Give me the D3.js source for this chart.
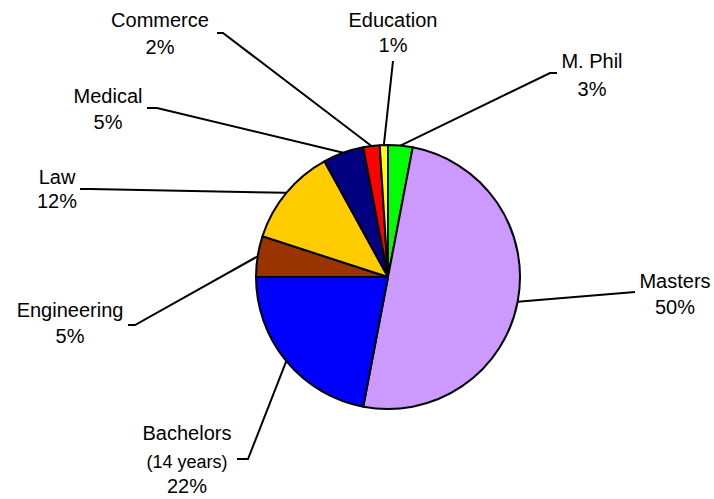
<!DOCTYPE html>
<html lang="en">
<head>
    <meta charset="UTF-8">
    <title>Pie chart</title>
    <script src="https://d3js.org/d3.v7.min.js"></script>
    <style>
        body { margin: 0; background: #ffffff; }
        svg text { font-family: "Liberation Sans", Arial, sans-serif; fill: #000; }
    </style>
</head>
<body>
    <svg id="chart" width="714" height="499"></svg>
    <script>
        // slices, clockwise from 12 o'clock
        const categories = ['M. Phil', 'Masters', 'Bachelors', 'Engineering', 'Law', 'Medical', 'Commerce', 'Education'];
        const values = [3, 50, 22, 5, 12, 5, 2, 1];
        const colors = ['#00ff00', '#cc99ff', '#0000ff', '#993300', '#ffcc00', '#000080', '#ff0000', '#ffff00'];

        // label placement: text centre, baselines, and where the leader leaves the text
        const labelLayout = {
            'M. Phil':     { x: 592, y: 68,  y2: 96,  lines: [[557, 73], [550, 73]] },
            'Masters':     { x: 675, y: 288, y2: 314, lines: [[635, 292]] },
            'Bachelors':   { x: 187, y: 440, y2: 493, lines: [[237, 459], [248, 459]], sub: '(14 years)', ys: 468 },
            'Engineering': { x: 70,  y: 317, y2: 343, lines: [[128, 325], [135, 325]] },
            'Law':         { x: 57,  y: 184, y2: 208, lines: [[80, 189], [90, 189]] },
            'Medical':     { x: 108, y: 103, y2: 129, lines: [[147, 108], [157, 108]] },
            'Commerce':    { x: 160, y: 27,  y2: 54,  lines: [[217, 33], [223, 33]] },
            'Education':   { x: 393, y: 27,  y2: 52,  lines: [[393, 61]] }
        };

        const cx = 388, cy = 277, r = 132;
        const svg = d3.select('#chart');
        const g = svg.append('g').attr('transform', `translate(${cx},${cy})`);

        const data = categories.map((c, i) => ({ name: c, value: values[i], color: colors[i] }));
        const pie = d3.pie().value(d => d.value).sort(null);
        const arc = d3.arc().innerRadius(0).outerRadius(r);
        const arcs = pie(data);

        g.selectAll('path.slice')
            .data(arcs)
            .enter().append('path')
            .attr('class', 'slice')
            .attr('d', arc)
            .attr('fill', d => d.data.color)
            .attr('stroke', '#000')
            .attr('stroke-width', 2)
            .attr('stroke-linejoin', 'round');

        // leader lines and labels
        arcs.forEach(a => {
            const lay = labelLayout[a.data.name];
            const mid = (a.startAngle + a.endAngle) / 2;
            const edge = [cx + r * Math.sin(mid), cy - r * Math.cos(mid)];
            const pts = lay.lines.concat([edge]);
            svg.append('path')
                .attr('d', d3.line()(pts))
                .attr('fill', 'none')
                .attr('stroke', '#000')
                .attr('stroke-width', 2);

            const t = svg.append('g').attr('text-anchor', 'middle');
            t.append('text').attr('x', lay.x).attr('y', lay.y)
                .style('font-size', '20px').text(a.data.name);
            if (lay.sub) {
                t.append('text').attr('x', lay.x).attr('y', lay.ys)
                    .style('font-size', '18px').text(lay.sub);
            }
            t.append('text').attr('x', lay.x).attr('y', lay.y2)
                .style('font-size', '20px').text(Math.round(a.data.value) + '%');
        });
    </script>
</body>
</html>
